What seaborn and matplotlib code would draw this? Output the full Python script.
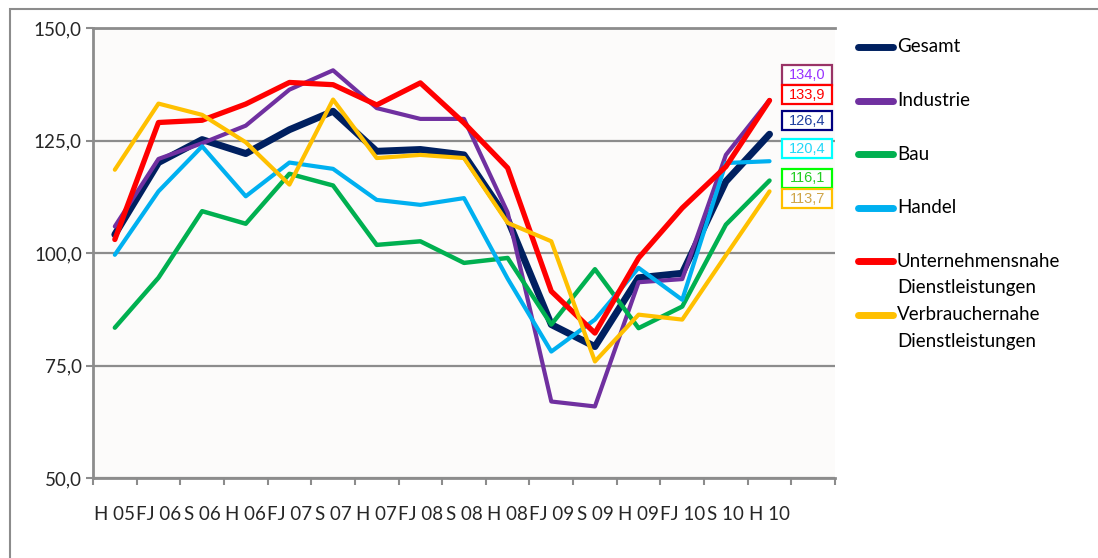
import numpy as np
import pandas as pd
import matplotlib
matplotlib.use("Agg")
import matplotlib.pyplot as plt
import matplotlib.ticker as mticker
from matplotlib.lines import Line2D
from matplotlib.patches import Rectangle
import seaborn as sns

# ─────────────────────────────────────────────
# DADOS
# ─────────────────────────────────────────────

PERIODOS = ["H 05", "FJ 06", "S 06", "H 06", "FJ 07", "S 07", "H 07", "FJ 08",
            "S 08", "H 08", "FJ 09", "S 09", "H 09", "FJ 10", "S 10", "H 10"]

GESAMT = [104.1, 120.1, 125.2, 122.1, 127.4, 131.5, 122.6, 123.0,
          121.8, 107.5, 84.1, 79.2, 94.5, 95.5, 115.9, 126.4]
INDUSTRIE = [105.9, 120.9, 124.4, 128.3, 136.3, 140.6, 132.2, 129.8,
             129.8, 109.0, 67.0, 65.9, 93.5, 94.2, 121.8, 134.0]
BAU = [83.4, 94.5, 109.3, 106.5, 117.6, 115.0, 101.8, 102.6,
       97.8, 98.9, 84.1, 96.4, 83.3, 88.1, 106.3, 116.1]
HANDEL = [99.6, 113.7, 123.7, 112.6, 120.1, 118.7, 111.8, 110.7,
          112.2, 94.3, 78.1, 85.2, 96.7, 89.6, 120.0, 120.4]
UNTERNEHMEN = [103.0, 129.0, 129.5, 133.1, 137.9, 137.4, 132.9, 137.8,
               128.9, 118.9, 91.5, 82.2, 98.9, 110.0, 119.2, 133.9]
VERBRAUCHER = [118.5, 133.2, 130.7, 124.6, 115.2, 134.1, 121.1, 121.8,
               121.1, 106.7, 102.6, 75.9, 86.3, 85.2, 99.5, 113.7]

SERIEN = ["Gesamt", "Industrie", "Bau", "Handel",
          "Unternehmensnahe\nDienstleistungen", "Verbrauchernahe\nDienstleistungen"]
WERTE = [GESAMT, INDUSTRIE, BAU, HANDEL, UNTERNEHMEN, VERBRAUCHER]

# ─────────────────────────────────────────────
# ESTILO
# ─────────────────────────────────────────────

FARBEN = ["#002060", "#7030A0", "#00B050", "#00B0F0", "#FF0000", "#FFC000"]
LINIEN = [5.0, 3.0, 3.2, 3.0, 3.8, 3.0]

# rótulos finais (ordem de cima para baixo): índice da série, cor da borda, cor do texto
ROTULO_ORDEM = [1, 4, 0, 3, 2, 5]
ROTULO_RAND = ["#993366", "#FF0000", "#000080", "#00FFFF", "#00FF00", "#FFC000"]
ROTULO_TEXT = ["#9933FF", "#FF0000", "#1F3F9F", "#22D8F8", "#22CC22", "#CFA548"]
ROTULO_Y = [139.6, 135.2, 129.4, 123.2, 116.6, 112.1]

GRAU = "#8C8C8C"

sns.set_style("white")
plt.rcParams["font.family"] = ["Lato", "DejaVu Sans"]

W, H = 1098, 558
fig = plt.figure(figsize=(W / 100, H / 100), dpi=100)
fig.patch.set_facecolor("white")

# moldura externa (só esquerda e topo visíveis)
fig.add_artist(Rectangle((10 / W, -0.2), 1.5, 1.2 - 9 / H,
                         transform=fig.transFigure, fill=False,
                         edgecolor=GRAU, lw=1.5))

ax = fig.add_axes([93 / W, 1 - 478 / H, 742 / W, 450 / H])
ax.set_facecolor("#FCFBFA")

x = np.arange(len(PERIODOS))
for name, werte, farbe, lw in zip(SERIEN, WERTE, FARBEN, LINIEN):
    df = pd.DataFrame({"x": x, "wert": werte})
    sns.lineplot(data=df, x="x", y="wert", ax=ax, color=farbe, linewidth=lw,
                 legend=False, zorder=3)

ax.set_xlim(-0.5, len(PERIODOS) + 0.5)
ax.set_ylim(50, 150)
ax.set_xlabel("")
ax.set_ylabel("")

ax.set_yticks([50, 75, 100, 125, 150])
ax.yaxis.set_major_formatter(mticker.FuncFormatter(lambda v, p: f"{v:.1f}".replace(".", ",")))
ax.tick_params(axis="y", length=5, width=1.5, color=GRAU, pad=3, labelsize=13.5,
               left=True)

ax.set_xticks(x)
ax.set_xticklabels(PERIODOS)
ax.set_xticks(np.arange(-0.5, len(PERIODOS) + 1), minor=True)
ax.tick_params(axis="x", which="major", length=0, pad=20, labelsize=13.5)
ax.tick_params(axis="x", which="minor", length=5, width=1.5, color=GRAU,
               bottom=True)

ax.yaxis.grid(True, color=GRAU, lw=1.6, zorder=1)
ax.set_axisbelow(True)
for side in ["left", "bottom", "top"]:
    ax.spines[side].set_color(GRAU)
    ax.spines[side].set_linewidth(2.0)
ax.spines["right"].set_visible(False)

# caixas com os valores finais
bw, bh = 50 / 43.65, 19.5 / 4.5
for idx, rand, textfarbe, yl in zip(ROTULO_ORDEM, ROTULO_RAND, ROTULO_TEXT, ROTULO_Y):
    wert = WERTE[idx][-1]
    ax.add_patch(Rectangle((15.86 - bw / 2, yl - bh / 2), bw, bh, facecolor="white",
                           edgecolor=rand, lw=1.6, zorder=4))
    ax.text(15.86, yl, f"{wert:.1f}".replace(".", ","), ha="center", va="center",
            color=textfarbe, fontsize=10.5, family="Liberation Sans", zorder=5)

# legenda manual (estilo Excel: marcador alinhado à primeira linha)
for i, (name, farbe) in enumerate(zip(SERIEN, FARBEN)):
    py = 47 + 53.6 * i
    fy = 1 - py / H
    fig.add_artist(Line2D([858 / W, 893 / W], [fy, fy], transform=fig.transFigure,
                          color=farbe, lw=5, solid_capstyle="round"))
    zeilen = name.split("\n")
    for j, zeile in enumerate(zeilen):
        fig.text(897 / W, 1 - (py + 26 * j) / H, zeile, ha="left", va="center",
                 fontsize=13.5, color="black")

fig.savefig("out.png", dpi=100)
